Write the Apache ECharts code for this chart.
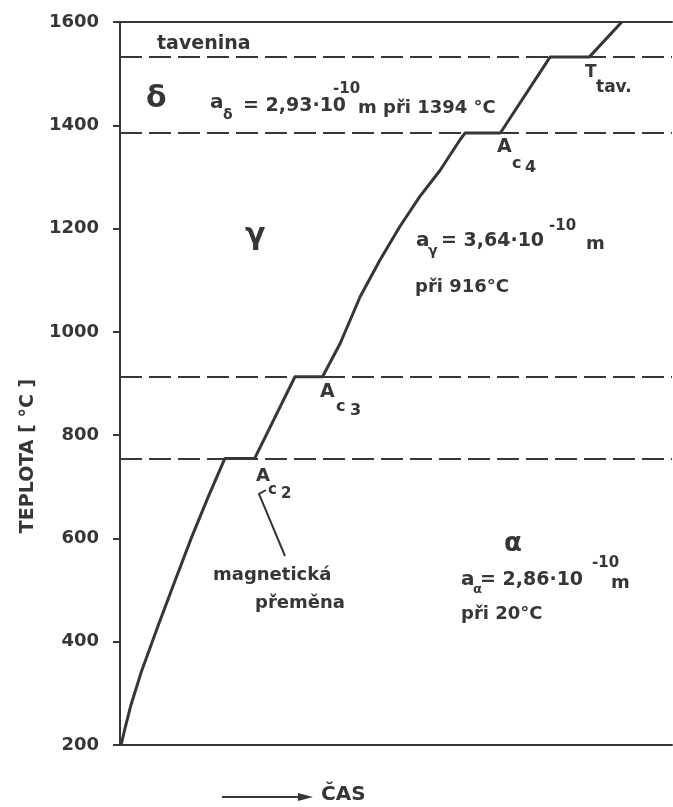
<!DOCTYPE html>
<html>
<head>
<meta charset="utf-8">
<script src="https://cdn.jsdelivr.net/npm/echarts@6/dist/echarts.min.js"></script>
<style>
  html, body { margin: 0; padding: 0; background: #fff; }
  #chart { width: 673px; height: 807px; }
</style>
</head>
<body>
<div id="chart"></div>
<script>
// Heating curve of pure iron: time (arbitrary units) vs. temperature in °C
const timeValues = [0.2, 0.9, 2.0, 3.9, 6.9, 10.0, 13.0, 16.0, 19.0, 24.4, 31.7, 36.7,
  39.9, 43.5, 47.1, 50.7, 54.3, 58.0, 61.6, 62.5, 68.9, 77.9, 85.0, 90.9];
const tempValues = [200, 232, 278, 343, 431, 519, 603, 681, 755, 755, 913, 913,
  978, 1068, 1139, 1204, 1262, 1313, 1372, 1385, 1385, 1532, 1532, 1600];

// Transformation isotherms (dashed): melting, Ac4, Ac3, Ac2
const isotherms = [1532, 1385, 913, 755];

// Temperature axis
const tempMin = 200;
const tempMax = 1600;
const tempStep = 200;

const INK = '#363636';
const FONT = '"DejaVu Sans", sans-serif';

const chart = echarts.init(document.getElementById('chart'), null, { renderer: 'canvas' });

function txt(x, y, text, size, extra) {
  return Object.assign({
    type: 'text',
    x: x, y: y,
    silent: true,
    style: {
      text: text,
      fill: INK,
      font: 'bold ' + size + 'px ' + FONT,
      textAlign: 'left',
      textVerticalAlign: 'middle'
    }
  }, extra || {});
}

const annotations = [
  txt(157, 44, 'tavenina', 19),
  // delta region
  txt(146, 99, 'δ', 30),
  txt(210, 103, 'a', 20),
  txt(223, 115, 'δ', 14),
  txt(243, 106, '= 2,93·10', 19),
  txt(333, 89, '-10', 15),
  txt(358, 108, 'm při 1394 °C', 18),
  // melting point
  txt(585, 73, 'T', 17),
  txt(596, 88, 'tav.', 17),
  // Ac4
  txt(497, 147, 'A', 19),
  txt(512, 164, 'c', 16),
  txt(525, 168, '4', 16),
  // gamma region
  txt(245, 236, 'γ', 30),
  txt(416, 241, 'a', 20),
  txt(428, 251, 'γ', 14),
  txt(441, 241, '= 3,64·10', 19),
  txt(549, 226, '-10', 15),
  txt(586, 244, 'm', 18),
  txt(415, 287, 'při 916°C', 18),
  // Ac3
  txt(320, 392, 'A', 19),
  txt(336, 407, 'c', 16),
  txt(350, 411, '3', 16),
  // Ac2
  txt(256, 476, 'A', 18),
  txt(268, 490, 'c', 15),
  txt(281, 494, '2', 15),
  txt(213, 575, 'magnetická', 18),
  txt(255, 603, 'přeměna', 18),
  // alpha region
  txt(504, 544, 'α', 26),
  txt(461, 580, 'a', 20),
  txt(473, 590, 'α', 13),
  txt(480, 580, '= 2,86·10', 19),
  txt(592, 563, '-10', 15),
  txt(611, 583, 'm', 18),
  txt(461, 614, 'při 20°C', 18),
  // pointer from "magnetická přeměna" to Ac2
  {
    type: 'polyline', silent: true,
    shape: { points: [[285, 556], [259, 494], [266, 490]] },
    style: { stroke: INK, lineWidth: 2, fill: null }
  },
  // axis titles
  txt(28, 456, 'TEPLOTA [ °C ]', 19, { rotation: Math.PI / 2, style: {
    text: 'TEPLOTA [ °C ]', fill: INK, font: 'bold 19px ' + FONT,
    textAlign: 'center', textVerticalAlign: 'middle' } }),
  {
    type: 'line', silent: true,
    shape: { x1: 222, y1: 797, x2: 302, y2: 797 },
    style: { stroke: INK, lineWidth: 2 }
  },
  {
    type: 'polygon', silent: true,
    shape: { points: [[298, 793], [313, 797], [298, 801]] },
    style: { fill: INK }
  },
  txt(321, 795, 'ČAS', 20)
];

const option = {
  animation: false,
  backgroundColor: '#ffffff',
  grid: { left: 120, right: 1, top: 22, bottom: 62, containLabel: false },
  xAxis: [
    {
      type: 'value', min: 0, max: 100, position: 'bottom',
      axisLine: { show: true, lineStyle: { color: INK, width: 2 } },
      axisTick: { show: false }, axisLabel: { show: false }, splitLine: { show: false }
    },
    {
      type: 'value', min: 0, max: 100, position: 'top',
      axisLine: { show: true, lineStyle: { color: INK, width: 2 } },
      axisTick: { show: false }, axisLabel: { show: false }, splitLine: { show: false }
    }
  ],
  yAxis: {
    type: 'value', min: tempMin, max: tempMax, interval: tempStep,
    axisLine: { show: true, lineStyle: { color: INK, width: 2 } },
    axisTick: { show: true, inside: false, length: 7, lineStyle: { color: INK, width: 2 } },
    axisLabel: {
      margin: 21, color: INK, fontFamily: FONT, fontWeight: 'bold', fontSize: 18,
      formatter: v => String(v)
    },
    splitLine: { show: false }
  },
  series: [
    {
      type: 'line',
      xAxisIndex: 0,
      data: timeValues.map((t, i) => [t, tempValues[i]]),
      showSymbol: false,
      symbol: 'none',
      smooth: false,
      lineStyle: { color: INK, width: 3, join: 'round' },
      z: 3,
      markLine: {
        silent: true,
        symbol: ['none', 'none'],
        label: { show: false },
        lineStyle: { color: INK, width: 2, type: [22, 7] },
        data: isotherms.map(v => ({ yAxis: v }))
      }
    }
  ],
  graphic: annotations
};

chart.setOption(option);
</script>
</body>
</html>
